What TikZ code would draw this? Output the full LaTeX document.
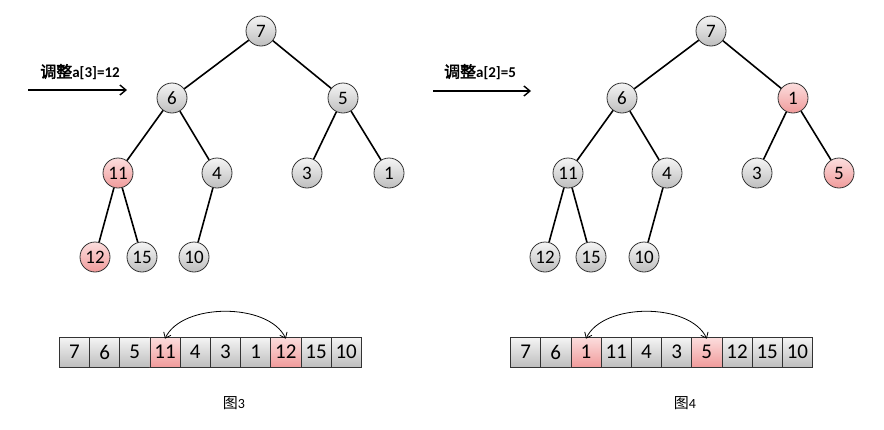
\documentclass[tikz,border=0pt]{standalone}
\usepackage{fontspec}
\setmainfont{Carlito}
\newfontfamily\cjk{Noto Sans CJK SC}
\newfontfamily\cjkb[FakeBold=2.5]{Noto Sans CJK SC}
\usetikzlibrary{arrows.meta}
\definecolor{gtop}{RGB}{245,245,245}
\definecolor{gbot}{RGB}{190,190,190}
\definecolor{ptop}{RGB}{252,222,222}
\definecolor{pbot}{RGB}{240,155,155}
\tikzset{
  tn/.style={circle,draw=black!80,line width=0.8pt,minimum size=30pt,inner sep=0pt,
    top color=gtop,bottom color=gbot,font=\fontsize{19}{19}\selectfont},
  tnp/.style={tn,top color=ptop,bottom color=pbot},
  cell/.style={draw=black!80,line width=0.6pt,minimum width=30.2pt,minimum height=30pt,inner sep=0pt,
    top color=gtop,bottom color=gbot,font=\fontsize{21}{21}\selectfont},
  cellp/.style={cell,top color=ptop,bottom color=pbot},
  treeedge/.style={line width=1.6pt,black},
  lblarrow/.style={line width=1.4pt,-{Straight Barb[length=6pt,width=10pt,line width=1.4pt]}},
  swaparrow/.style={line width=0.8pt,{Straight Barb[length=5pt,width=8pt]}-{Straight Barb[length=5pt,width=8pt]}},
  lbltxt/.style={inner sep=0pt},
  captxt/.style={inner sep=0pt}
}
\begin{document}
\begin{tikzpicture}[x=1pt,y=-1pt]
\useasboundingbox (0,0) rectangle (884,429);
% ---- left tree
\node[tn] (a7) at (261,31) {7};
\node[tn] (a6) at (172,98) {6};
\node[tn] (a5) at (343,98) {5};
\node[tnp] (a11) at (118,173) {11};
\node[tn] (a4) at (217,173) {4};
\node[tn] (a3) at (307,173) {3};
\node[tn] (a1) at (389,173) {1};
\node[tnp] (a12) at (95,257) {12};
\node[tn] (a15) at (142,257) {15};
\node[tn] (a10) at (194,257) {10};
\draw[treeedge] (a7)--(a6); \draw[treeedge] (a7)--(a5);
\draw[treeedge] (a6)--(a11); \draw[treeedge] (a6)--(a4);
\draw[treeedge] (a5)--(a3); \draw[treeedge] (a5)--(a1);
\draw[treeedge] (a11)--(a12); \draw[treeedge] (a11)--(a15);
\draw[treeedge] (a4)--(a10);
% ---- right tree
\node[tn] (b7) at (711,31) {7};
\node[tn] (b6) at (622,98) {6};
\node[tnp] (b1) at (793,98) {1};
\node[tn] (b11) at (568,173) {11};
\node[tn] (b4) at (667,173) {4};
\node[tn] (b3) at (757,173) {3};
\node[tnp] (b5) at (839,173) {5};
\node[tn] (b12) at (545,257) {12};
\node[tn] (b15) at (591,257) {15};
\node[tn] (b10) at (644,257) {10};
\draw[treeedge] (b7)--(b6); \draw[treeedge] (b7)--(b1);
\draw[treeedge] (b6)--(b11); \draw[treeedge] (b6)--(b4);
\draw[treeedge] (b1)--(b3); \draw[treeedge] (b1)--(b5);
\draw[treeedge] (b11)--(b12); \draw[treeedge] (b11)--(b15);
\draw[treeedge] (b4)--(b10);
% ---- labels with arrows
\node[lbltxt] (la) at (80,72) {{\cjkb\fontsize{16}{16}\selectfont 调整}{\bfseries\fontsize{15}{15}\selectfont a[3]=12}};
\coordinate (la1) at (28,90);
\coordinate (la2) at (127,90);
\draw[lblarrow] (la1)--(la2);
\node[lbltxt] (lb) at (480,72) {{\cjkb\fontsize{16}{16}\selectfont 调整}{\bfseries\fontsize{15}{15}\selectfont a[2]=5}};
\coordinate (lb1) at (433,91);
\coordinate (lb2) at (531,91);
\draw[lblarrow] (lb1)--(lb2);
% ---- left array
\foreach \v [count=\i from 0] in {7,6,5,11,4,3,1,12,15,10}{
  \pgfmathsetmacro{\xx}{59.3+15.1+30.2*\i}
  \ifnum\i=3 \node[cellp] (L\i) at (\xx,352) {\v};
  \else\ifnum\i=7 \node[cellp] (L\i) at (\xx,352) {\v};
  \else \node[cell] (L\i) at (\xx,352) {\v};\fi\fi
}
\draw[swaparrow] ([yshift=-2pt]L3.north) to[out=65,in=115,looseness=0.85] ([yshift=-2pt]L7.north);
% ---- right array
\foreach \v [count=\i from 0] in {7,6,1,11,4,3,5,12,15,10}{
  \pgfmathsetmacro{\xx}{510.5+15.1+30.2*\i}
  \ifnum\i=2 \node[cellp] (R\i) at (\xx,352) {\v};
  \else\ifnum\i=6 \node[cellp] (R\i) at (\xx,352) {\v};
  \else \node[cell] (R\i) at (\xx,352) {\v};\fi\fi
}
\draw[swaparrow] ([yshift=-2pt]R2.north) to[out=65,in=115,looseness=0.85] ([yshift=-2pt]R6.north);
% ---- captions
\node[captxt] (c3) at (234,403) {{\cjk\fontsize{15}{15}\selectfont 图}{\fontsize{14}{14}\selectfont 3}};
\node[captxt] (c4) at (685,403) {{\cjk\fontsize{15}{15}\selectfont 图}{\fontsize{14}{14}\selectfont 4}};
\end{tikzpicture}
\end{document}
